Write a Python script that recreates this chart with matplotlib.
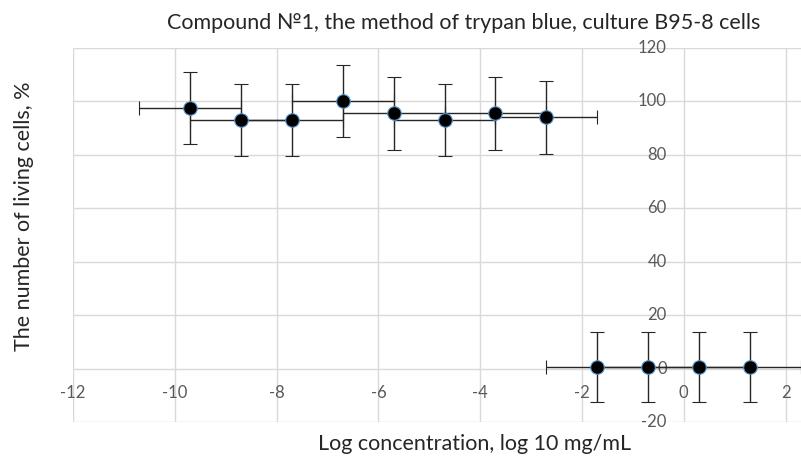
import matplotlib
matplotlib.use("Agg")
import matplotlib.pyplot as plt

# log concentration vs living cells (%)
log_conc = [-9.7, -8.7, -7.7, -6.7, -5.7, -4.7, -3.7, -2.7, -1.7, -0.7, 0.3, 1.3]
living = [97.5, 93.0, 93.0, 100.0, 95.5, 93.0, 95.5, 94.0, 0.5, 0.5, 0.5, 0.5]
x_err = [1.0] * 12
y_err = [13.5, 13.5, 13.5, 13.5, 13.5, 13.5, 13.5, 13.5, 13.2, 13.2, 13.2, 13.2]

x_ticks = [-12, -10, -8, -6, -4, -2, 0, 2]
y_ticks = [-20, 0, 20, 40, 60, 80, 100, 120]

plt.rcParams['font.family'] = ['Lato', 'DejaVu Sans']

fig = plt.figure(figsize=(8.01, 4.59), dpi=100)
W, H = 801, 459
ax = fig.add_axes([73 / W, (H - 422) / H, (W - 73) / W, (422 - 48) / H])
ax.set_xlim(-12, -12 + 728 / 50.9)
ax.set_ylim(-20, 120)

ax.set_xticks(x_ticks)
ax.set_yticks(y_ticks)
ax.tick_params(length=0, labelleft=False, labelbottom=False)
ax.grid(True, color='#d9d9d9', linewidth=1)
ax.set_axisbelow(True)
for s in ax.spines.values():
    s.set_visible(False)

# tick labels sit next to the axes crossing at (0, 0), like Excel
for v in y_ticks:
    ax.annotate(str(v), (0, v), xytext=(-17, 0), textcoords='offset pixels',
                ha='right', va='center', fontsize=12, color='#595959',
                annotation_clip=False)
for v in x_ticks:
    ax.annotate(str(v), (v, 0), xytext=(0, -24), textcoords='offset pixels',
                ha='center', va='center', fontsize=12, color='#595959',
                annotation_clip=False)

ax.errorbar(log_conc, living, xerr=x_err, yerr=y_err, fmt='o',
            color='black', ecolor='#262626', elinewidth=1, capsize=5,
            capthick=1, markersize=9.8, markerfacecolor='black',
            markeredgecolor='#5b9bd5', markeredgewidth=0.8, zorder=3)

fig.text(464 / W, 1 - 23 / H,
         'Compound №1, the method of trypan blue, culture B95-8 cells',
         ha='center', va='center', fontsize=15.5, color='#262626')
fig.text(475 / W, 1 - 444 / H, 'Log concentration, log 10 mg/mL',
         ha='center', va='center', fontsize=15.5, color='#262626')
fig.text(24 / W, 1 - 216 / H, 'The number of living cells, %',
         ha='center', va='center', rotation=90, fontsize=15.5, color='#262626')

fig.savefig('out.png', dpi=100)
